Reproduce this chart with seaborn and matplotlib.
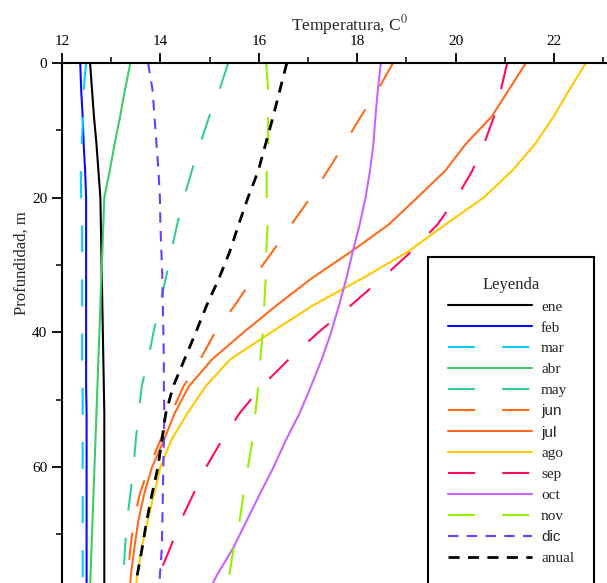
import matplotlib
matplotlib.use('Agg')
import matplotlib.pyplot as plt
from matplotlib.ticker import MultipleLocator
import seaborn as sns
import pandas as pd

sns.set_style('ticks')
plt.rcParams['font.family'] = ['Liberation Serif', 'DejaVu Serif']
plt.rcParams['mathtext.fontset'] = 'stix'

# profundidad (m), común a todos los meses
profundidad = [0, 4, 8, 12, 16, 20, 24, 28, 32, 36, 40, 44, 48, 52, 56, 60, 64, 68, 72, 76, 80]

# temperatura (C) por mes
ene = [12.57, 12.61, 12.65, 12.70, 12.74, 12.78, 12.79, 12.80, 12.81, 12.82, 12.83,
       12.84, 12.85, 12.86, 12.86, 12.86, 12.86, 12.86, 12.86, 12.86, 12.86]
feb = [12.37, 12.39, 12.42, 12.44, 12.47, 12.49, 12.49, 12.49, 12.49, 12.49, 12.49,
       12.49, 12.49, 12.50, 12.50, 12.50, 12.50, 12.50, 12.50, 12.50, 12.50]
mar = [12.49, 12.44, 12.43, 12.40, 12.38, 12.39, 12.41, 12.41, 12.41, 12.41, 12.41,
       12.41, 12.42, 12.42, 12.42, 12.42, 12.42, 12.42, 12.42, 12.42, 12.42]
abr = [13.39, 13.28, 13.18, 13.07, 12.97, 12.86, 12.84, 12.82, 12.80, 12.78, 12.76,
       12.74, 12.72, 12.70, 12.68, 12.66, 12.64, 12.62, 12.60, 12.58, 12.56]
may = [15.38, 15.20, 14.99, 14.81, 14.64, 14.48, 14.34, 14.22, 14.11, 13.98, 13.86,
       13.75, 13.62, 13.56, 13.50, 13.45, 13.39, 13.32, 13.28, 13.25, 13.22]
jun = [18.73, 18.42, 18.07, 17.74, 17.40, 17.05, 16.66, 16.28, 15.88, 15.51, 15.11,
       14.81, 14.47, 14.22, 14.00, 13.77, 13.58, 13.46, 13.39, 13.34, 13.31]
jul = [21.43, 21.08, 20.73, 20.21, 19.79, 19.22, 18.64, 17.88, 17.07, 16.36, 15.69,
       15.05, 14.58, 14.29, 14.07, 13.83, 13.67, 13.55, 13.47, 13.40, 13.36]
ago = [22.65, 22.31, 21.99, 21.62, 21.15, 20.57, 19.79, 19.04, 18.10, 17.10, 16.25,
       15.42, 14.92, 14.55, 14.22, 14.00, 13.87, 13.74, 13.62, 13.53, 13.46]
sep = [21.05, 20.92, 20.78, 20.58, 20.34, 20.02, 19.63, 19.10, 18.50, 17.87, 17.21,
       16.61, 16.06, 15.61, 15.25, 14.93, 14.67, 14.41, 14.20, 13.97, 13.77]
oct = [18.48, 18.42, 18.37, 18.33, 18.26, 18.17, 18.05, 17.91, 17.78, 17.63, 17.47,
       17.28, 17.06, 16.83, 16.55, 16.30, 16.02, 15.75, 15.48, 15.15, 14.88]
nov = [16.15, 16.19, 16.19, 16.19, 16.16, 16.16, 16.18, 16.15, 16.14, 16.11, 16.08,
       16.03, 15.99, 15.93, 15.87, 15.78, 15.69, 15.61, 15.49, 15.40, 15.33]
dic = [13.75, 13.84, 13.88, 13.92, 13.96, 13.99, 14.00, 14.02, 14.04, 14.05, 14.06,
       14.07, 14.07, 14.08, 14.07, 14.06, 14.05, 14.04, 14.03, 13.99, 13.96]
anual = [16.57, 16.43, 16.29, 16.14, 15.99, 15.78, 15.59, 15.41, 15.19, 14.94, 14.72,
         14.49, 14.26, 14.11, 14.03, 13.95, 13.83, 13.72, 13.63, 13.53, 13.48]

meses = ['ene', 'feb', 'mar', 'abr', 'may', 'jun', 'jul', 'ago', 'sep', 'oct', 'nov', 'dic', 'anual']
series = [ene, feb, mar, abr, may, jun, jul, ago, sep, oct, nov, dic, anual]

colores = {'ene': 'black', 'feb': '#0a0aff', 'mar': '#10c8ff', 'abr': '#3ccc64',
           'may': '#36cc98', 'jun': '#ff6a14', 'jul': '#ff6a1e', 'ago': '#ffc800',
           'sep': '#ff0a64', 'oct': '#c864ff', 'nov': '#96f000', 'dic': '#6a3cff',
           'anual': 'black'}
largo = (0, (13, 13))
estilos = {'mar': largo, 'may': largo, 'jun': largo, 'sep': largo, 'nov': largo,
           'dic': (0, (5, 4)), 'anual': (0, (4, 3))}

df = pd.DataFrame({'mes': [m for m, s in zip(meses, series) for _ in s],
                   'temp': [t for s in series for t in s],
                   'prof': profundidad * len(series)})

fig = plt.figure(figsize=(6.07, 5.83), dpi=100)
ax = fig.add_axes([62 / 607, 0, 1 - 62 / 607, 1 - 62.9 / 583])

for m in meses:
    d = df[df['mes'] == m]
    sns.lineplot(data=d, x='temp', y='prof', orient='y', ax=ax, color=colores[m],
                 lw=2 if m == 'anual' else 1.5, linestyle=estilos.get(m, '-'), label=m)

ax.set_xlim(12, 12 + 545 / 49.2)
ax.set_ylim(77.2, 0)
ax.xaxis.tick_top()
ax.xaxis.set_label_position('top')
ax.xaxis.set_major_locator(MultipleLocator(2))
ax.xaxis.set_minor_locator(MultipleLocator(1))
ax.yaxis.set_major_locator(MultipleLocator(20))
ax.yaxis.set_minor_locator(MultipleLocator(10))
ax.tick_params(which='major', length=7, width=1.3, labelsize=11, colors='black')
ax.tick_params(which='minor', length=4, width=1.3)
for s in ['right', 'bottom']:
    ax.spines[s].set_visible(False)
for s in ['top', 'left']:
    ax.spines[s].set_linewidth(1.5)
    ax.spines[s].set_color('black')

ax.set_xlabel('Temperatura, C$^{0}$', fontsize=12.5)
ax.xaxis.set_label_coords(0.528, 1.063)
ax.set_ylabel('Profundidad, m', fontsize=12)
ax.yaxis.set_label_coords(-0.06, 0.615)

leg = ax.legend(title='Leyenda', loc='upper left',
                bbox_to_anchor=(428 / 607, 1 - 257 / 583), bbox_transform=fig.transFigure,
                borderaxespad=0, fontsize=11, title_fontsize=12, frameon=True,
                fancybox=False, framealpha=1, edgecolor='black', handlelength=5.5,
                handletextpad=0.6, labelspacing=0.47, borderpad=1.3)
leg.get_frame().set_linewidth(1.5)
for t in leg.get_texts():
    if t.get_text() in ('jun', 'jul', 'dic'):
        t.set_fontfamily('Liberation Sans')

fig.savefig('out.png', dpi=100)
